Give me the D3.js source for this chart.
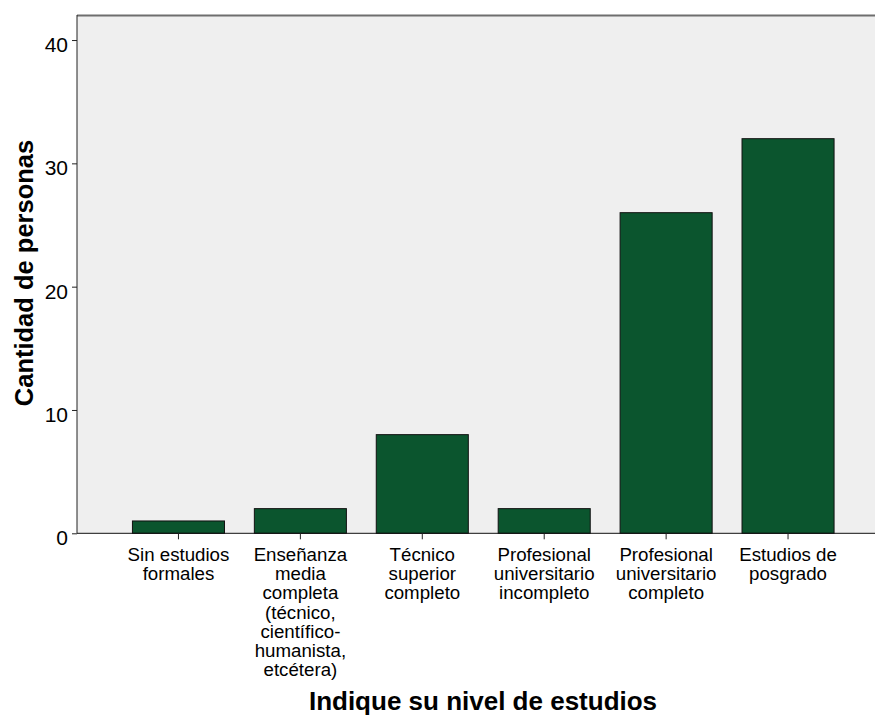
<!DOCTYPE html>
<html>
<head>
<meta charset="utf-8">
<script src="https://cdn.jsdelivr.net/npm/d3@7"></script>
<style>
  html, body { margin: 0; padding: 0; background: #fff; }
  svg { display: block; font-family: "Liberation Sans", Arial, sans-serif; }
</style>
</head>
<body>
<svg id="chart" width="875" height="717"></svg>
<script>
const categories = [
  "Sin estudios\nformales",
  "Enseñanza\nmedia\ncompleta\n(técnico,\ncientífico-\nhumanista,\netcétera)",
  "Técnico\nsuperior\ncompleto",
  "Profesional\nuniversitario\nincompleto",
  "Profesional\nuniversitario\ncompleto",
  "Estudios de\nposgrado"
];
const counts = [1, 2, 8, 2, 26, 32];
const yTicks = [0, 10, 20, 30, 40];
const xTitle = "Indique su nivel de estudios";
const yTitle = "Cantidad de personas";

const svg = d3.select("#chart");
const plot = { left: 77, top: 15, right: 880, bottom: 533.3 };

const x = d3.scaleBand()
  .domain(categories)
  .range([117.5, 849])
  .paddingInner(0.245)
  .paddingOuter(0.1225);

const y = d3.scaleLinear()
  .domain([0, 42.03])
  .range([plot.bottom, plot.top]);

// background
svg.append("rect")
  .attr("x", plot.left).attr("y", plot.top)
  .attr("width", plot.right - plot.left)
  .attr("height", plot.bottom - plot.top)
  .attr("fill", "#efefef");

// top border
svg.append("line")
  .attr("x1", plot.left).attr("x2", plot.right)
  .attr("y1", plot.top + 0.5).attr("y2", plot.top + 0.5)
  .attr("stroke", "#6e6e6e").attr("stroke-width", 2);

// bars
svg.append("g").selectAll("rect")
  .data(categories.map((c, i) => ({ c, v: counts[i] })))
  .join("rect")
  .attr("x", d => x(d.c))
  .attr("y", d => y(d.v))
  .attr("width", x.bandwidth())
  .attr("height", d => y(0) - y(d.v))
  .attr("fill", "#0b552e")
  .attr("stroke", "#111")
  .attr("stroke-width", 1);

// y axis
const yAxis = svg.append("g")
  .attr("transform", `translate(${plot.left},0)`)
  .call(d3.axisLeft(y).tickValues(yTicks).tickSize(5).tickPadding(5).tickSizeOuter(0));
yAxis.select(".domain").attr("stroke", "#222").attr("d", `M0,${plot.top}V${plot.bottom}`);
yAxis.selectAll(".tick line").attr("stroke", "#222");
yAxis.selectAll(".tick text")
  .attr("font-size", 21)
  .attr("fill", "#000")
  .attr("dy", "0.55em")
  .attr("x", -9);

// x axis
const xAxis = svg.append("g")
  .attr("transform", `translate(0,${plot.bottom})`)
  .call(d3.axisBottom(x).tickSize(6).tickSizeOuter(0).tickFormat(""));
xAxis.select(".domain").attr("stroke", "#111").attr("d", `M${plot.left},0H${plot.right}`);
xAxis.selectAll(".tick line").attr("stroke", "#222");
xAxis.selectAll(".tick").each(function(d) {
  const t = d3.select(this).append("text")
    .attr("fill", "#000")
    .attr("font-size", 18.7)
    .attr("text-anchor", "middle");
  d.split("\n").forEach((line, i) => {
    t.append("tspan").attr("x", 0).attr("y", 27.4 + i * 19.3).text(line);
  });
});

// axis titles
svg.append("text")
  .attr("x", 483).attr("y", 710)
  .attr("text-anchor", "middle")
  .attr("font-size", 26).attr("font-weight", "bold")
  .attr("fill", "#000")
  .text(xTitle);

svg.append("text")
  .attr("transform", `translate(33,273) rotate(-90)`)
  .attr("text-anchor", "middle")
  .attr("font-size", 25.5).attr("font-weight", "bold")
  .attr("fill", "#000")
  .text(yTitle);
</script>
</body>
</html>
